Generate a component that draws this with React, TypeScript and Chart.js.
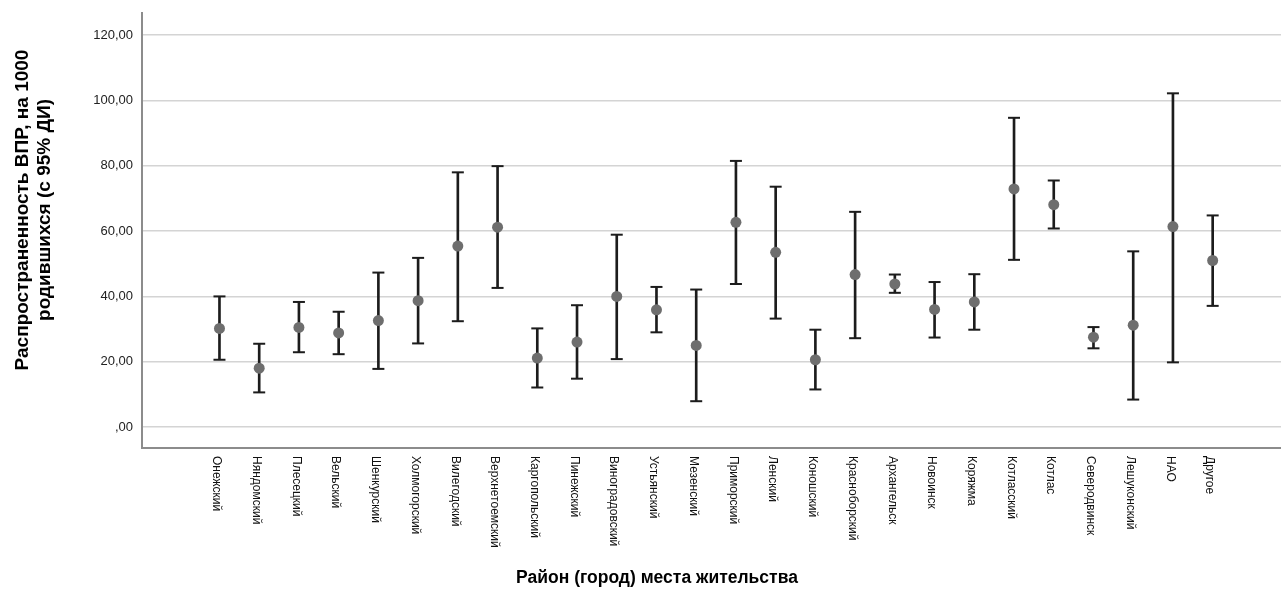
import React, { useEffect, useRef } from "react";
import { Chart, registerables } from "chart.js";

Chart.register(...registerables);

const categories = [
  "Онежский", "Няндомский", "Плесецкий", "Вельский", "Шенкурский", "Холмогорский",
  "Вилегодский", "Верхнетоемский", "Каргопольский", "Пинежский", "Виноградовский",
  "Устьянский", "Мезенский", "Приморский", "Ленский", "Коношский", "Красноборский",
  "Архангельск", "Новоинск", "Коряжма", "Котласский", "Котлас", "Северодвинск",
  "Лешуконский", "НАО", "Другое",
];

const means = [30.2, 18.0, 30.5, 28.8, 32.6, 38.7, 55.4, 61.2, 21.1, 26.0, 40.0, 35.9, 25.0,
  62.7, 53.5, 20.6, 46.7, 43.8, 36.0, 38.3, 72.9, 68.1, 27.5, 31.2, 61.4, 51.0];
const lower = [20.6, 10.6, 22.9, 22.3, 17.8, 25.6, 32.4, 42.6, 12.1, 14.8, 20.8, 29.0, 7.9,
  43.8, 33.2, 11.5, 27.2, 41.1, 27.4, 29.8, 51.2, 60.8, 24.1, 8.4, 19.8, 37.1];
const upper = [40.0, 25.5, 38.3, 35.3, 47.3, 51.8, 78.0, 79.9, 30.2, 37.3, 58.9, 42.9, 42.1,
  81.5, 73.6, 29.8, 65.9, 46.7, 44.4, 46.8, 94.7, 75.5, 30.6, 53.8, 102.2, 64.8];

const yTicks = [0, 20, 40, 60, 80, 100, 120];
const yTickLabels = [",00", "20,00", "40,00", "60,00", "80,00", "100,00", "120,00"];

const yTitle = ["Распространенность ВПР, на 1000", "родившихся (с 95% ДИ)"];
const xTitle = "Район (город) места жительства";

const FONT = '"Liberation Sans", Arial, sans-serif';

const labelPlugin = {
  id: "labels",
  afterDraw(chart: any) {
    const { ctx, chartArea } = chart;
    const xs = chart.scales.x;
    ctx.save();
    ctx.font = `12px ${FONT}`;
    ctx.fillStyle = "#111";
    ctx.textAlign = "left";
    ctx.textBaseline = "middle";
    categories.forEach((c, i) => {
      const px = xs.getPixelForValue(i);
      ctx.save();
      ctx.translate(px - 3, chartArea.bottom + 8);
      ctx.rotate(Math.PI / 2);
      ctx.fillText(c, 0, 0);
      ctx.restore();
    });
    // x-axis title
    ctx.font = `bold 17.5px ${FONT}`;
    ctx.fillStyle = "#000";
    ctx.textAlign = "center";
    ctx.fillText(xTitle, 657, 578);
    // y-axis title (two lines)
    ctx.font = `bold 19px ${FONT}`;
    yTitle.forEach((line, k) => {
      ctx.save();
      ctx.translate(23 + k * 22, 210);
      ctx.rotate(-Math.PI / 2);
      ctx.fillText(line, 0, 0);
      ctx.restore();
    });
    ctx.restore();
  },
};

export default function App() {
  const ref = useRef<HTMLCanvasElement | null>(null);

  useEffect(() => {
    if (!ref.current) return;
    const whiskers = categories.map((_, i) => ({ x: i, y: [lower[i], upper[i]] }));
    const caps = [
      ...categories.map((_, i) => ({ x: i, y: lower[i] })),
      ...categories.map((_, i) => ({ x: i, y: upper[i] })),
    ];
    const dots = categories.map((_, i) => ({ x: i, y: means[i] }));

    const chart = new Chart(ref.current, {
      type: "scatter",
      data: {
        datasets: [
          {
            type: "scatter",
            data: dots,
            pointRadius: 5.5,
            pointHoverRadius: 5.5,
            backgroundColor: "#6e6e6e",
            borderColor: "#6e6e6e",
            borderWidth: 0,
            order: 1,
          } as any,
          {
            type: "scatter",
            data: caps,
            pointStyle: "line",
            pointRadius: 6,
            pointHoverRadius: 6,
            borderColor: "#1c1c1c",
            borderWidth: 2,
            order: 2,
          } as any,
          {
            type: "bar",
            data: whiskers,
            backgroundColor: "#1c1c1c",
            borderWidth: 0,
            barThickness: 2,
            grouped: false,
            order: 3,
          } as any,
        ],
      },
      plugins: [labelPlugin],
      options: {
        animation: false,
        responsive: true,
        maintainAspectRatio: false,
        layout: { autoPadding: false, padding: { top: 13, left: 0, right: 0, bottom: 0 } },
        plugins: { legend: { display: false }, tooltip: { enabled: false } },
        events: [],
        scales: {
          x: {
            type: "linear",
            offset: false,
            min: -1.95,
            max: 26.72,
            ticks: { display: false },
            grid: { display: false, drawTicks: false, offset: false },
            border: { display: true, color: "#8c8c8c", width: 2 },
            afterFit: (s: any) => {
              s.height = 164;
              s.paddingLeft = 0;
              s.paddingRight = 0;
            },
          },
          y: {
            type: "linear",
            min: -6.43,
            max: 126.8,
            afterBuildTicks: (s: any) => {
              s.ticks = yTicks.map((v) => ({ value: v }));
            },
            ticks: {
              callback: (_v: any, i: number) => yTickLabels[i],
              color: "#222",
              font: { family: FONT, size: 13 },
              padding: 9,
            },
            grid: { color: "#d4d4d4", lineWidth: 1.5, drawTicks: false },
            border: { display: true, color: "#8c8c8c", width: 2 },
            afterFit: (s: any) => {
              s.width = 142;
              s.paddingTop = 0;
              s.paddingBottom = 0;
            },
          },
        },
      } as any,
    });
    return () => chart.destroy();
  }, []);

  return (
    <div style={{ position: "fixed", left: 0, top: 0, width: 1281, height: 612, background: "#fff" }}>
      <canvas ref={ref} />
    </div>
  );
}
